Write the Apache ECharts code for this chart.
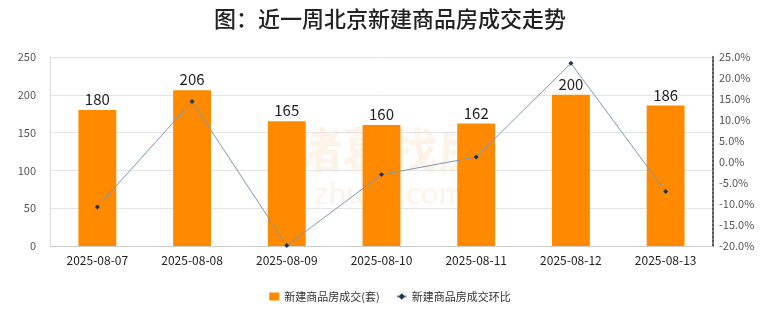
<!DOCTYPE html>
<html><head><meta charset="utf-8">
<script src="https://cdn.jsdelivr.net/npm/echarts@6/dist/echarts.min.js"></script>
<style>html,body{margin:0;padding:0;background:#fff}#c{width:780px;height:328px}</style>
</head><body><div id="c"></div>
<script>
const categories = ['2025-08-07','2025-08-08','2025-08-09','2025-08-10','2025-08-11','2025-08-12','2025-08-13'];
const deals = [180, 206, 165, 160, 162, 200, 186];
const ratio = [-10.7, 14.4, -19.9, -3.0, 1.2, 23.5, -7.0];
const leftTicks = {min: 0, max: 250, interval: 50};
const rightTicks = {min: -20, max: 25, interval: 5};

const chart = echarts.init(document.getElementById('c'));
const font = '"Noto Sans CJK SC", "Noto Sans", sans-serif';
chart.setOption({
  animation: false,
  textStyle: {fontFamily: font},
  title: {text: '图：近一周北京新建商品房成交走势', left: 'center', top: 3,
    textStyle: {fontSize: 22, fontWeight: 500, color: '#222', fontFamily: font}},
  graphic: [
    {type: 'text', left: 'center', top: 126, style: {text: '诸葛找房', fontSize: 48, fontWeight: 'bold', fill: 'rgba(245,180,120,0.16)', fontFamily: font}},
    {type: 'text', left: 'center', top: 178, style: {text: 'zhuge.com', fontSize: 30, fill: 'rgba(245,180,120,0.16)', fontFamily: font}}
  ],
  legend: {bottom: 21, left: 'center', itemGap: 16, itemWidth: 10, itemHeight: 8,
    textStyle: {fontSize: 11, color: '#333'},
    data: [{name: '新建商品房成交(套)', icon: 'rect'}, {name: '新建商品房成交环比'}]},
  grid: {left: 50, right: 67, top: 57, bottom: 82},
  xAxis: {type: 'category', data: categories,
    axisLine: {lineStyle: {color: '#ccc'}}, axisTick: {show: false},
    axisLabel: {color: '#222', fontSize: 12, margin: 8}},
  yAxis: [
    {type: 'value', min: leftTicks.min, max: leftTicks.max, interval: leftTicks.interval,
      axisLine: {show: true, lineStyle: {color: '#ddd'}}, axisTick: {show: false},
      axisLabel: {color: '#555', fontSize: 11, margin: 14},
      splitLine: {lineStyle: {color: '#e4e4e4'}}},
    {type: 'value', min: rightTicks.min, max: rightTicks.max, interval: rightTicks.interval,
      axisLine: {show: true, lineStyle: {color: '#555', type: 'dotted', width: 2}}, axisTick: {show: false},
      axisLabel: {color: '#555', fontSize: 11, margin: 6, formatter: v => v.toFixed(1) + '%'},
      splitLine: {show: false}}
  ],
  series: [
    {name: '新建商品房成交(套)', type: 'bar', data: deals, barWidth: '40%',
      itemStyle: {color: '#FF8A00'},
      label: {show: true, position: 'top', color: '#222', fontSize: 15, distance: 3}},
    {name: '新建商品房成交环比', type: 'line', yAxisIndex: 1, data: ratio,
      symbol: 'diamond', symbolSize: 5,
      lineStyle: {color: '#7C98B6', width: 1},
      itemStyle: {color: '#1F3550'}}
  ]
});
</script></body></html>
